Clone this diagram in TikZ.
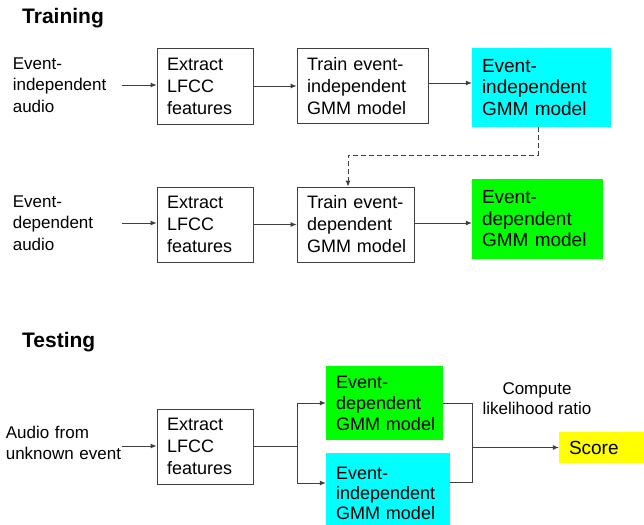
\documentclass[tikz,border=0pt]{standalone}
\usepackage{fontspec}
\setmainfont{Liberation Sans}
\usetikzlibrary{arrows.meta}

\definecolor{aqua}{RGB}{0,255,255}
\definecolor{lime}{RGB}{0,255,0}
\definecolor{lemon}{RGB}{255,255,0}

\begin{document}
\begin{tikzpicture}[x=1pt,y=-1pt,
	font=\fontsize{18}{22}\selectfont,
	box/.style={draw=black!75,line width=0.8pt,align=left,inner xsep=10pt,inner ysep=4pt},
	model/.style={align=left,inner xsep=10pt,inner ysep=4pt},
	label/.style={font=\fontsize{17}{21.5}\selectfont,align=left,inner sep=0pt,anchor=east},
	title/.style={font=\fontsize{21}{25}\selectfont\bfseries,anchor=west,inner sep=0pt},
	arr/.style={draw=black!75,line width=0.8pt,-{Latex[length=6pt,width=5pt]}}]
	
	\useasboundingbox (0,0) rectangle (644,524);
	
	\node[title] (train) at (22,18)  {Training};
	\node[title] (test)  at (22,342) {Testing};
	
	\node[label,text width=109pt] (in1) at (122,85)  {Event-\\independent\\audio};
	\node[label,text width=109pt] (in2) at (122,223) {Event-\\dependent\\audio};
	\node[label,text width=116pt] (in3) at (122,443) {Audio from\\unknown event};
	
	\node[box,text width=76pt,minimum height=76pt]  (ex1) at (205,86)    {Extract\\LFCC\\features};
	\node[box,text width=111pt,minimum height=75pt] (tr1) at (362.5,86)  {Train event-\\independent\\GMM model};
	\node[model,fill=aqua,text width=119pt,minimum height=79pt,font=\fontsize{19}{21.5}\selectfont] (ind1) at (541.5,87.5) {Event-\\independent\\GMM model};
	
	\node[box,text width=76pt,minimum height=75pt]  (ex2) at (205,224.5)   {Extract\\LFCC\\features};
	\node[box,text width=97pt,minimum height=75pt]  (tr2) at (355.5,224.5) {Train event-\\dependent\\\mbox{GMM model}};
	\node[model,fill=lime,text width=111pt,minimum height=80pt,font=\fontsize{19}{21.5}\selectfont] (dep1) at (537.5,219) {Event-\\dependent\\GMM model};
	
	\node[box,text width=76pt,minimum height=75pt]  (ex3) at (205,446.5) {Extract\\LFCC\\features};
	\node[model,fill=lime,text width=97pt,minimum height=74pt,font=\fontsize{18}{21}\selectfont]  (dep2) at (384.5,403) {Event-\\dependent\\\mbox{GMM model}};
	\node[model,fill=aqua,text width=104pt,minimum height=80pt,font=\fontsize{18}{20}\selectfont]  (ind2) at (388,493)   {Event-\\independent\\GMM model};
	\node[model,fill=lemon,text width=65pt,minimum height=31pt,font=\fontsize{19}{22}\selectfont] (score) at (601.5,447.5) {Score};
	\node[align=center,inner sep=0pt,font=\fontsize{17}{20}\selectfont] (ratio) at (537,399) {Compute\\likelihood ratio};
	
	\coordinate (split) at (297,446.5);
	\coordinate (merge) at (472,447.5);
	
	
	\draw[arr] (in1.east) -- (in1.east -| ex1.west);
	\draw[arr] (ex1.east) -- (ex1.east -| tr1.west);
	\draw[arr] ([yshift=3pt]tr1.east) -- ([yshift=3pt]tr1.east -| ind1.west);
	\draw[arr,dash pattern=on 5pt off 3pt] ([xshift=-3.5pt]ind1.south) -- ++(0,28) -| ([xshift=-7.5pt]tr2.north);
	
	\draw[arr] (in2.east) -- (in2.east -| ex2.west);
	\draw[arr] (ex2.east) -- (ex2.east -| tr2.west);
	\draw[arr] ([yshift=1.5pt]tr2.east) -- ([yshift=1.5pt]tr2.east -| dep1.west);
	
	\draw[arr] ([yshift=-3pt]in3.east) -- ([yshift=-3pt]in3.east -| ex3.west);
	\draw[arr,-] (ex3.east) -- (split);
	\draw[arr] (split) |- (dep2.west);
	\draw[arr] (split) |- ([yshift=10pt]ind2.west);
	\draw[arr,-] (dep2.east) -| (merge);
	\draw[arr,-] ([yshift=11pt]ind2.east) -| (merge);
	\draw[arr] (merge) -- (score);
	
\end{tikzpicture}
\end{document}
